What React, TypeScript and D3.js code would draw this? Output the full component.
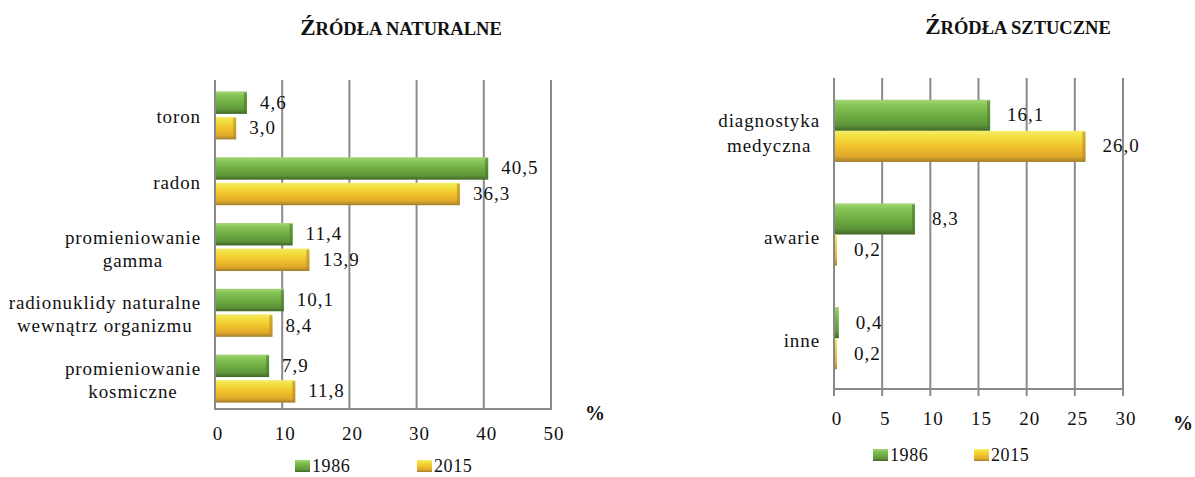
import React, { useEffect, useRef } from "react";
import * as d3 from "d3";

const natCategories = ["toron", "radon", "promieniowanie\ngamma", "radionuklidy naturalne\nwewnątrz organizmu", "promieniowanie\nkosmiczne"];
const nat1986 = [4.6, 40.5, 11.4, 10.1, 7.9];
const nat2015 = [3.0, 36.3, 13.9, 8.4, 11.8];
const natTicks = [0, 10, 20, 30, 40, 50];

const artCategories = ["diagnostyka\nmedyczna", "awarie", "inne"];
const art1986 = [16.1, 8.3, 0.4];
const art2015 = [26.0, 0.2, 0.2];
const artTicks = [0, 5, 10, 15, 20, 25, 30];

const seriesNames = ["1986", "2015"];
const titles = ["Źródła naturalne", "Źródła sztuczne"];

const FONT = "'Liberation Serif', 'Times New Roman', serif";
const GRID = "#8a8a8a";

const fmt = (v: number) => v.toFixed(1).replace(".", ",");

export default function App() {
  const ref = useRef<SVGSVGElement>(null);

  useEffect(() => {
    const svg = d3.select(ref.current);
    svg.selectAll("*").remove();

    const defs = svg.append("defs");
    const mkGrad = (id: string, stops: [number, string][]) => {
      const g = defs.append("linearGradient").attr("id", id).attr("x1", 0).attr("y1", 0).attr("x2", 0).attr("y2", 1);
      stops.forEach(([o, c]) => g.append("stop").attr("offset", o).attr("stop-color", c));
    };
    mkGrad("gGreen", [[0, "#a6d678"], [0.18, "#86c457"], [0.5, "#6fae43"], [0.82, "#5e9438"], [1, "#3f6626"]]);
    mkGrad("gYellow", [[0, "#f6ec6a"], [0.18, "#f2df40"], [0.5, "#f1c32c"], [0.82, "#e0a82a"], [1, "#a07e2c"]]);
    const fills = ["url(#gGreen)", "url(#gYellow)"];
    const edgeCols = ["#4a7a2c", "#b08a2a"];

    type Cfg = {
      cats: string[]; s1: number[]; s2: number[]; ticks: number[];
      x0: number; x1: number; top: number; bottom: number;
      bandTop: number; bandBottom: number; padIn: number; padOut: number; barGap: number;
      labelRight: number; lineH: number; labelDy: number;
      tickLen: number; tickY: number; valOff: number;
      pctX: number; pctY: number;
      title: string; titleX: number; titleY: number;
      legY: number; legX: [number, number];
    };

    const draw = (c: Cfg) => {
      const g = svg.append("g");
      const x = d3.scaleLinear().domain([c.ticks[0], c.ticks[c.ticks.length - 1]]).range([c.x0, c.x1]);
      const y = d3.scaleBand<string>().domain(c.cats).range([c.bandTop, c.bandBottom]).paddingInner(c.padIn).paddingOuter(c.padOut);
      const yi = d3.scaleBand<string>().domain(seriesNames).range([0, y.bandwidth()]).paddingInner(c.barGap);

      // gridlines
      g.selectAll(".grid").data(c.ticks.slice(1)).join("line")
        .attr("x1", d => x(d)).attr("x2", d => x(d))
        .attr("y1", c.top).attr("y2", c.bottom + c.tickLen)
        .attr("stroke", GRID).attr("stroke-width", 2);
      // axes
      g.append("line").attr("x1", x(0)).attr("x2", x(0)).attr("y1", c.top).attr("y2", c.bottom + c.tickLen).attr("stroke", GRID).attr("stroke-width", 2);
      g.append("line").attr("x1", x(0) - 1).attr("x2", c.x1 + 1).attr("y1", c.bottom).attr("y2", c.bottom).attr("stroke", GRID).attr("stroke-width", 2);

      // tick labels
      g.selectAll(".tl").data(c.ticks).join("text")
        .attr("x", d => x(d) + 3).attr("y", c.tickY)
        .attr("text-anchor", "middle").attr("font-family", FONT).attr("font-size", 19)
        .attr("letter-spacing", 1).attr("fill", "#111").text(d => String(d));

      g.append("text").attr("x", c.pctX).attr("y", c.pctY).attr("text-anchor", "middle")
        .attr("font-family", FONT).attr("font-size", 20).attr("font-weight", "bold").attr("fill", "#111").text("%");

      // bars
      const series = [c.s1, c.s2];
      series.forEach((vals, si) => {
        vals.forEach((v, i) => {
          const by = (y(c.cats[i]) as number) + (yi(seriesNames[si]) as number);
          const bh = yi.bandwidth();
          const bw = x(v) - x(0);
          g.append("rect").attr("x", x(0) + 1).attr("y", by).attr("width", Math.max(bw, 1.5)).attr("height", bh).attr("fill", fills[si]);
          if (bw > 6) {
            g.append("rect").attr("x", x(0) + 1 + bw - 3).attr("y", by + 1).attr("width", 3).attr("height", bh - 2).attr("fill", edgeCols[si]).attr("opacity", 0.6);
          }
          g.append("text").attr("x", x(v) + c.valOff).attr("y", by + bh / 2 + 6)
            .attr("font-family", FONT).attr("font-size", 19).attr("letter-spacing", 1).attr("fill", "#111")
            .text(fmt(v));
        });
      });

      // category labels (multi-line centred blocks, right aligned)
      c.cats.forEach(cat => {
        const lines = cat.split("\n");
        const cy = (y(cat) as number) + y.bandwidth() / 2 + c.labelDy;
        const tg = g.append("g");
        const texts = lines.map((ln, li) =>
          tg.append("text").attr("y", cy + (li - (lines.length - 1) / 2) * c.lineH + 6)
            .attr("font-family", FONT).attr("font-size", 19).attr("letter-spacing", 0.9)
            .attr("fill", "#111").attr("text-anchor", "middle").text(ln)
        );
        const widths = texts.map(t => (t.node() as SVGTextElement).getComputedTextLength());
        const maxW = Math.max(...widths);
        texts.forEach(t => t.attr("x", c.labelRight - maxW / 2));
      });

      // title (small caps built from two sizes)
      const tt = g.append("text").attr("x", c.titleX).attr("y", c.titleY).attr("text-anchor", "middle")
        .attr("font-family", FONT).attr("font-weight", "bold").attr("fill", "#111");
      tt.append("tspan").attr("font-size", 23).text(c.title.charAt(0).toUpperCase());
      tt.append("tspan").attr("font-size", 18.5).text(c.title.slice(1).toUpperCase());

      // legend
      seriesNames.forEach((s, si) => {
        const lx = c.legX[si];
        g.append("rect").attr("x", lx).attr("y", c.legY - 12).attr("width", 15).attr("height", 12).attr("fill", fills[si]);
        g.append("text").attr("x", lx + 17).attr("y", c.legY).attr("font-family", FONT).attr("font-size", 18)
          .attr("letter-spacing", 0.6).attr("fill", "#111").text(s);
      });
    };

    draw({
      cats: natCategories, s1: nat1986, s2: nat2015, ticks: natTicks,
      x0: 215, x1: 551, top: 80, bottom: 409,
      bandTop: 82.5, bandBottom: 411.5, padIn: 0.27, padOut: 0.135, barGap: 0.12,
      labelRight: 201, lineH: 23, labelDy: 2,
      tickLen: 0, tickY: 440, valOff: 14,
      pctX: 595, pctY: 420,
      title: titles[0], titleX: 401, titleY: 35,
      legY: 472, legX: [295, 417],
    });

    draw({
      cats: artCategories, s1: art1986, s2: art2015, ticks: artTicks,
      x0: 834, x1: 1123, top: 78, bottom: 389,
      bandTop: 79, bandBottom: 390, padIn: 0.4, padOut: 0.2, barGap: 0,
      labelRight: 820, lineH: 25, labelDy: 3,
      tickLen: 7, tickY: 425, valOff: 18,
      pctX: 1183, pctY: 430,
      title: titles[1], titleX: 1018, titleY: 34,
      legY: 461, legX: [873, 974],
    });
  }, []);

  return (
    <svg ref={ref} width={1195} height={477} style={{ position: "absolute", left: 0, top: 0, background: "#fff" }} />
  );
}
